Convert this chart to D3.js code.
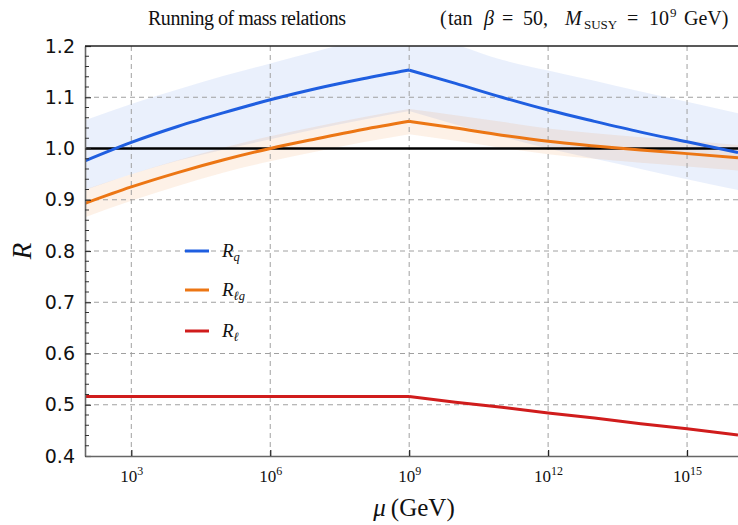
<!DOCTYPE html>
<html><head><meta charset="utf-8">
<script src="https://cdn.jsdelivr.net/npm/d3@7"></script>
<style>body{margin:0;background:#fff}svg{display:block}</style>
</head><body><div id="chart"></div>
<script>
// log10(mu) sample points
const logMu = [2, 3, 4, 5, 6, 7, 8, 9, 10, 11, 12, 13, 14, 15, 16.1];
const Rq      = [0.976, 1.012, 1.043, 1.070, 1.095, 1.117, 1.136, 1.153, 1.127, 1.100, 1.075, 1.053, 1.032, 1.013, 0.992];
const RqHi    = [1.055, 1.087, 1.115, 1.142, 1.166, 1.190, 1.212, 1.228, 1.203, 1.173, 1.152, 1.132, 1.111, 1.091, 1.069];
const RqLo    = [0.919, 0.950, 0.976, 0.998, 1.018, 1.038, 1.056, 1.073, 1.047, 1.023, 1.000, 0.980, 0.960, 0.940, 0.919];
const Rlg     = [0.893, 0.925, 0.953, 0.978, 1.000, 1.019, 1.037, 1.053, 1.040, 1.026, 1.014, 1.005, 0.997, 0.990, 0.982];
const RlgHi   = [0.920, 0.950, 0.977, 1.002, 1.024, 1.043, 1.061, 1.077, 1.065, 1.052, 1.039, 1.030, 1.022, 1.015, 1.007];
const RlgLo   = [0.866, 0.898, 0.927, 0.953, 0.975, 0.994, 1.012, 1.028, 1.015, 1.001, 0.989, 0.980, 0.972, 0.965, 0.957];
const Rl      = [0.516, 0.516, 0.516, 0.516, 0.516, 0.516, 0.516, 0.516, 0.505, 0.495, 0.484, 0.474, 0.463, 0.453, 0.441];
const yTicks = [0.4, 0.5, 0.6, 0.7, 0.8, 0.9, 1.0, 1.1, 1.2];
const xTickExps = [3, 6, 9, 12, 15];
const kinkLog = 9; // M_SUSY threshold

const W = 738, H = 525;
const m = {l: 85, r: 0, t: 46, b: 69};
const svg = d3.select("#chart").append("svg").attr("width", W).attr("height", H);
const x = d3.scaleLog().domain([1e2, Math.pow(10, 16.1)]).range([m.l, W - m.r]);
const y = d3.scaleLinear().domain([0.4, 1.2]).range([H - m.b, m.t]);
const blue = "#1f5ee0", orange = "#ec7614", red = "#d01c1c";

svg.append("defs").append("clipPath").attr("id", "c")
  .append("rect").attr("x", m.l).attr("y", m.t).attr("width", W - m.l).attr("height", H - m.b - m.t);
const g = svg.append("g").attr("clip-path", "url(#c)");

const idx = logMu.map((e, i) => i);
const segs = [idx.filter(i => logMu[i] <= kinkLog), idx.filter(i => logMu[i] >= kinkLog)];
const X = i => x(Math.pow(10, logMu[i]));

function bandPath(lo, hi) {
  const a = d3.area().x(X).y0(i => y(lo[i])).y1(i => y(hi[i])).curve(d3.curveMonotoneX);
  return segs.map(s => a(s)).join("");
}
function linePath(arr, curve) {
  const l = d3.line().x(X).y(i => y(arr[i])).curve(curve);
  return segs.map(s => l(s)).join("");
}

// bands
g.append("path").attr("d", bandPath(RqLo, RqHi)).attr("fill", blue).attr("fill-opacity", 0.095);
g.append("path").attr("d", bandPath(RlgLo, RlgHi)).attr("fill", orange).attr("fill-opacity", 0.1);

// grid
const gridY = yTicks.filter(v => v > 0.45 && v < 1.15);
g.selectAll(".gy").data(gridY).enter().append("line")
  .attr("x1", m.l).attr("x2", W).attr("y1", d => y(d)).attr("y2", d => y(d))
  .attr("stroke", "#a0a0a0").attr("stroke-width", 1).attr("stroke-dasharray", "5,4");
g.selectAll(".gx").data(xTickExps).enter().append("line")
  .attr("x1", d => x(Math.pow(10, d))).attr("x2", d => x(Math.pow(10, d)))
  .attr("y1", m.t).attr("y2", H - m.b)
  .attr("stroke", "#a0a0a0").attr("stroke-width", 1).attr("stroke-dasharray", "5,4");

// reference line at 1
g.append("line").attr("x1", m.l).attr("x2", W).attr("y1", y(1)).attr("y2", y(1))
  .attr("stroke", "#000").attr("stroke-width", 2.6);

// series lines
g.append("path").attr("d", linePath(Rq, d3.curveMonotoneX)).attr("fill", "none").attr("stroke", blue).attr("stroke-width", 3);
g.append("path").attr("d", linePath(Rlg, d3.curveMonotoneX)).attr("fill", "none").attr("stroke", orange).attr("stroke-width", 3);
g.append("path").attr("d", linePath(Rl, d3.curveLinear)).attr("fill", "none").attr("stroke", red).attr("stroke-width", 3);

// axes
const yAxis = d3.axisLeft(y).tickValues(yTicks).tickFormat(d3.format(".1f")).tickSizeInner(-6).tickSizeOuter(0).tickPadding(10);
const ya = svg.append("g").attr("transform", `translate(${m.l},0)`).call(yAxis);
ya.select(".domain").attr("stroke", "#666").attr("stroke-width", 1.6);
ya.selectAll(".tick line").attr("stroke", "#333").attr("stroke-width", 1.2);
ya.selectAll("text").attr("font-family", "DejaVu Sans").attr("font-size", 19).attr("fill", "#111");
const minor = d3.range(0.42, 1.2, 0.02).filter(v => Math.abs(v * 10 - Math.round(v * 10)) > 0.01);
svg.selectAll(".my").data(minor).enter().append("line")
  .attr("x1", m.l).attr("x2", m.l + 4).attr("y1", d => y(d)).attr("y2", d => y(d))
  .attr("stroke", "#333").attr("stroke-width", 1);

const xAxis = d3.axisBottom(x).tickValues(xTickExps.map(e => Math.pow(10, e))).tickFormat("").tickSizeInner(-6).tickSizeOuter(0);
const xa = svg.append("g").attr("transform", `translate(0,${H - m.b})`).call(xAxis);
xa.select(".domain").attr("stroke", "#666").attr("stroke-width", 1.6);
xa.selectAll(".tick line").attr("stroke", "#222").attr("stroke-width", 1.2);
xa.selectAll(".tick").append("text").attr("y", 26).attr("text-anchor", "middle")
  .attr("font-family", "Liberation Serif").attr("font-size", 17).attr("fill", "#111")
  .each(function(d) {
    const t = d3.select(this);
    t.append("tspan").text("10");
    t.append("tspan").attr("dy", -7).attr("font-size", 12).text(Math.round(Math.log10(d)));
  });

// top frame
svg.append("line").attr("x1", m.l).attr("x2", W).attr("y1", m.t).attr("y2", m.t).attr("stroke", "#222").attr("stroke-width", 1.3);

// title
const tf = {"font-family": "Liberation Serif", "font-size": 20, "fill": "#111"};
function tt(xp, str, opts = {}) {
  const t = svg.append("text").attr("x", xp).attr("y", 25 + (opts.dy || 0)).text(str);
  Object.entries(tf).forEach(([k, v]) => t.attr(k, v));
  if (opts.italic) t.attr("font-style", "italic");
  if (opts.size) t.attr("font-size", opts.size);
  if (opts.len) t.attr("textLength", opts.len).attr("lengthAdjust", "spacing");
  return t;
}
tt(148, "Running of mass relations", {len: 198});
tt(440, "(");
tt(448, "tan");
tt(484, "\u03b2", {italic: true});
tt(502, "=");
tt(523, "50,");
tt(565, "M", {italic: true});
tt(584, "SUSY", {size: 13, dy: 4});
tt(627, "=");
tt(649, "10");
tt(670, "9", {size: 13, dy: -8});
tt(684, "GeV)");

// axis labels
svg.append("text").attr("transform", `translate(31,${(m.t + H - m.b) / 2}) rotate(-90)`).attr("text-anchor", "middle")
  .attr("font-family", "Liberation Serif").attr("font-style", "italic").attr("font-size", 27).attr("fill", "#111").text("R");
const xl = svg.append("text").attr("x", 414).attr("y", 516).attr("text-anchor", "middle")
  .attr("font-family", "Liberation Serif").attr("font-size", 25).attr("fill", "#111");
xl.append("tspan").attr("font-style", "italic").text("\u03bc");
xl.append("tspan").text("\u2009(GeV)");

// legend
const legItems = [{c: blue, sub: "q"}, {c: orange, sub: "\u2113g"}, {c: red, sub: "\u2113"}];
const legY = [251, 290, 331];
legItems.forEach((it, i) => {
  svg.append("line").attr("x1", 185).attr("x2", 209).attr("y1", legY[i]).attr("y2", legY[i])
    .attr("stroke", it.c).attr("stroke-width", 3);
  const t = svg.append("text").attr("x", 222).attr("y", legY[i] + 6)
    .attr("font-family", "Liberation Serif").attr("font-style", "italic").attr("font-size", 19).attr("fill", "#111");
  t.append("tspan").text("R");
  t.append("tspan").attr("dy", 4).attr("font-size", 12.5).text(it.sub);
});
</script></body></html>
